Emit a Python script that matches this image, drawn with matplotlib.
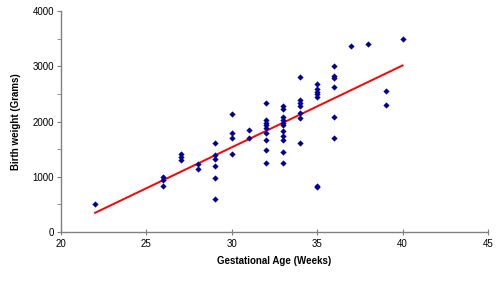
import numpy as np
import matplotlib
matplotlib.use("Agg")
import matplotlib.pyplot as plt

plt.rcParams['font.family'] = ['Liberation Sans', 'DejaVu Sans']

# Gestational age (weeks) and birth weight (grams)
ages = [22,
        26, 26, 26,
        27, 27, 27,
        28, 28,
        29, 29, 29, 29, 29, 29,
        30, 30, 30, 30,
        31, 31,
        32, 32, 32, 32, 32, 32, 32, 32, 32,
        33, 33, 33, 33, 33, 33, 33, 33, 33, 33, 33,
        34, 34, 34, 34, 34, 34, 34,
        35, 35, 35, 35, 35, 35, 35,
        36, 36, 36, 36, 36, 36,
        37, 38,
        39, 39,
        40]
weights = [507,
           1000, 940, 825,
           1405, 1363, 1303,
           1225, 1135,
           1605, 1395, 1320, 1200, 983, 597,
           2130, 1797, 1710, 1420,
           1846, 1707,
           2330, 2027, 1979, 1931, 1882, 1797, 1665, 1478, 1249,
           2281, 2220, 2076, 2027, 1979, 1931, 1834, 1738, 1665, 1453, 1249,
           2811, 2389, 2335, 2284, 2148, 2058, 1616,
           2679, 2583, 2540, 2492, 2438, 838, 809,
           3005, 2823, 2782, 2619, 2076, 1696,
           3367, 3403,
           2558, 2299,
           3488]

x_ticks = [20, 25, 30, 35, 40, 45]
y_ticks = [0, 1000, 2000, 3000, 4000]

x = np.array(ages, dtype=float)
y = np.array(weights, dtype=float)
slope, intercept = np.polyfit(x, y, 1)
xl = np.array([x.min(), x.max()])

fig = plt.figure(figsize=(5, 2.83), dpi=100)
ax = fig.add_axes([0.122, 0.18, 0.854, 0.781])

ax.scatter(x, y, marker='D', s=10, color='#000099', linewidths=0, zorder=3)
ax.plot(xl, slope * xl + intercept, color='#ff0000', lw=1.4, zorder=2)

ax.set_xlim(20, 45)
ax.set_ylim(0, 4000)
ax.set_xticks(x_ticks)
ax.set_yticks(y_ticks)
ax.set_yticks(np.arange(0, 4001, 500), minor=True)

for s in ['top', 'right']:
    ax.spines[s].set_visible(False)
for s in ['left', 'bottom']:
    ax.spines[s].set_color('#808080')
    ax.spines[s].set_linewidth(1.0)

ax.tick_params(axis='both', which='both', colors='#808080', labelcolor='black',
               labelsize=7)
ax.tick_params(axis='x', direction='inout', length=4, pad=3)
ax.tick_params(axis='y', which='both', direction='out', length=3, pad=2)

ax.set_xlabel('Gestational Age (Weeks)', fontsize=7, fontweight='bold', labelpad=5)
ax.set_ylabel('Birth weight (Grams)', fontsize=7, fontweight='bold', labelpad=8)

fig.savefig('out.png', dpi=100)
